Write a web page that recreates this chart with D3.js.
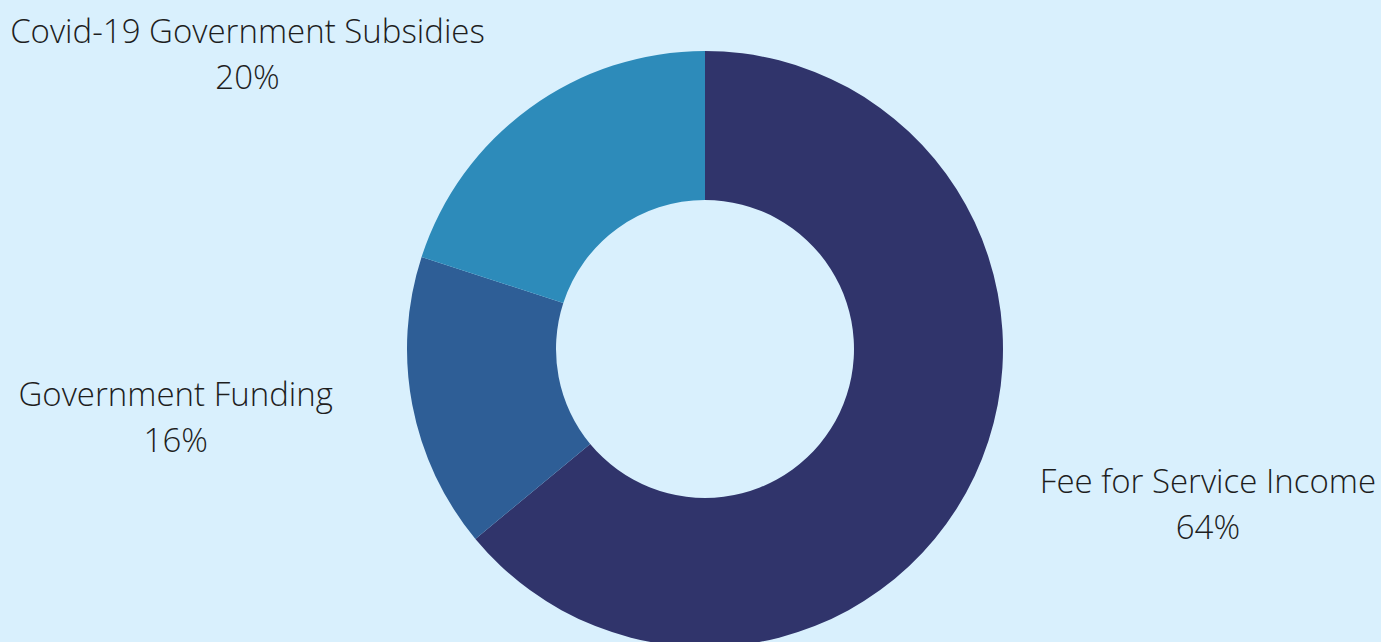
<!DOCTYPE html>
<html>
<head>
<meta charset="utf-8">
<script src="https://cdn.jsdelivr.net/npm/d3@7"></script>
<style>
  html, body { margin: 0; padding: 0; background: #d9f0fd; }
  text { font-family: "Open Sans", sans-serif; font-weight: 300; fill: #1e1e1e; }
</style>
</head>
<body>
<script>
const categories = ['Fee for Service Income', 'Government Funding', 'Covid-19 Government Subsidies'];
const values = [64, 16, 20];
const colors = ['#30346b', '#2e5e96', '#2d8bba'];

const width = 1381, height = 642;
const cx = 705, cy = 349;
const outerR = 298, innerR = 149;

const svg = d3.select('body').append('svg')
  .attr('width', width)
  .attr('height', height);

svg.append('rect')
  .attr('width', width)
  .attr('height', height)
  .attr('fill', '#d9f0fd');

const data = categories.map((c, i) => ({ name: c, value: values[i], color: colors[i] }));

const pie = d3.pie().sort(null).value(d => d.value);
const arc = d3.arc().innerRadius(innerR).outerRadius(outerR);

const g = svg.append('g').attr('transform', `translate(${cx},${cy})`);
const arcs = pie(data);

g.selectAll('path')
  .data(arcs).enter()
  .append('path')
  .attr('d', arc)
  .attr('fill', d => d.data.color);

// labels placed on an ellipse around the donut, pushed out if they overlap it
const rx = 547, ry = 365, pad = 35, offX = 8;
const total = d3.sum(values);

arcs.forEach(a => {
  const mid = (a.startAngle + a.endAngle) / 2;
  let x = rx * Math.sin(mid) + offX;
  let y = -ry * Math.cos(mid);

  const t = g.append('text').attr('text-anchor', 'middle');
  t.append('tspan').attr('x', x).attr('y', y - 11).style('font-size', '33px').text(a.data.name);
  t.append('tspan').attr('x', x).attr('y', y + 35).style('font-size', '33px')
    .text(Math.round(a.data.value / total * 100) + '%');

  let bb = t.node().getBBox();
  const dist = b => {
    const dx = Math.max(b.x - 0, 0 - (b.x + b.width), 0);
    const dy = Math.max(b.y - 0, 0 - (b.y + b.height), 0);
    return Math.sqrt(dx * dx + dy * dy);
  };
  const dir = x < 0 ? -1 : 1;
  let shift = 0;
  while (dist({ x: bb.x + shift, y: bb.y, width: bb.width, height: bb.height }) < outerR + pad && shift < 600) {
    shift += dir;
  }
  if (shift !== 0) {
    t.selectAll('tspan').attr('x', x + shift);
  }
});
</script>
</body>
</html>
